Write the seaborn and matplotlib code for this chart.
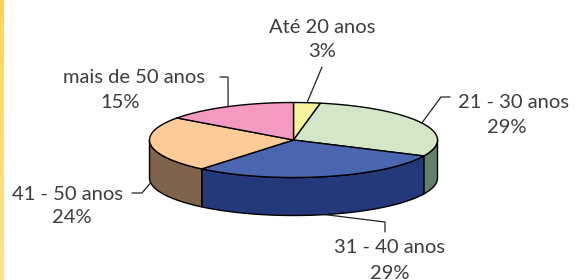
import numpy as np
import matplotlib
matplotlib.use("Agg")
import matplotlib.pyplot as plt
import seaborn as sns
from matplotlib.patches import Polygon
from matplotlib.colors import LinearSegmentedColormap

# ---- data ----
categories = ["Até 20 anos", "21 - 30 anos", "31 - 40 anos", "41 - 50 anos", "mais de 50 anos"]
values = [3, 29, 29, 24, 15]
pct_labels = ["3%", "29%", "29%", "24%", "15%"]

top_colors = ["#F6F29C", "#D3E7C8", "#4A66AE", "#FDCB97", "#F49AC2"]
side_colors = ["#7B7A4E", "#62806A", "#24387C", "#7F634A", "#7A4D61"]

# label layout: (x line1, baseline1, x line2, baseline2)
label_pos = [(322, 33, 322, 57),
             (514, 108, 507, 133),
             (390, 253, 390, 279),
             (68, 200, 72, 223),
             (134, 83, 120, 108)]
# leader elbow / end points
leader_pts = [[(322, 67)],
              [(441, 97), (450, 97)],
              [(385, 222), (385, 232)],
              [(142, 193), (132, 193)],
              [(228, 77), (220, 77)]]

sns.set_theme(style="white")
plt.rcParams["font.family"] = ["Lato", "DejaVu Sans"]

W, H = 575, 280
fig = plt.figure(figsize=(5.75, 2.8), dpi=100)
ax = fig.add_axes([0, 0, 1, 1])
ax.set_xlim(0, W)
ax.set_ylim(H, 0)
ax.axis("off")

# yellow strip on the left
grad = np.linspace(0, 1, 256).reshape(-1, 1)
cmap = LinearSegmentedColormap.from_list("strip", ["#FFD54F", "#FFE38C"])
ax.imshow(grad, cmap=cmap, extent=[0, 3.5, H, 0], aspect="auto", zorder=0)

cx, cy, a, b, depth = 293.5, 140, 144, 37.5, 38


def arc(t1, t2, dz=0, n=80):
    t = np.radians(np.linspace(t1, t2, n))
    return np.column_stack([cx + a * np.cos(t), cy - b * np.sin(t) + dz])


fracs = np.array(values, dtype=float) / sum(values)
bounds = 90 - 360 * np.concatenate([[0], np.cumsum(fracs)])

# sides (front half: angles between -180 and 0)
for i in range(len(values)):
    hi, lo = bounds[i], bounds[i + 1]
    s, e = max(lo, -180), min(hi, 0)
    if s < e:
        top = arc(s, e)
        bot = arc(e, s, dz=depth)
        ax.add_patch(Polygon(np.vstack([top, bot]), closed=True,
                             facecolor=side_colors[i], edgecolor="black",
                             linewidth=1.0, joinstyle="round", zorder=2))

# top faces
for i in range(len(values)):
    hi, lo = bounds[i], bounds[i + 1]
    pts = np.vstack([[cx, cy], arc(hi, lo)])
    ax.add_patch(Polygon(pts, closed=True, facecolor=top_colors[i],
                         edgecolor="black", linewidth=1.0,
                         joinstyle="round", zorder=3))

# labels and leaders
txt_color = "#3C3C3C"
for i in range(len(values)):
    mid = (bounds[i] + bounds[i + 1]) / 2
    t = np.radians(mid)
    ax_x = cx + a * np.cos(t)
    ax_y = cy - b * np.sin(t) + (depth if np.sin(t) < 0 else 0)
    path = [(ax_x, ax_y)] + leader_pts[i]
    xs, ys = zip(*path)
    ax.plot(xs, ys, color="#222222", linewidth=0.9, zorder=4,
            solid_joinstyle="miter")
    x1, y1, x2, y2 = label_pos[i]
    ax.text(x1, y1, categories[i], ha="center", va="baseline",
            fontsize=14.5, color=txt_color)
    ax.text(x2, y2, pct_labels[i], ha="center", va="baseline",
            fontsize=14.5, color=txt_color)

fig.savefig("out.png", dpi=100)
